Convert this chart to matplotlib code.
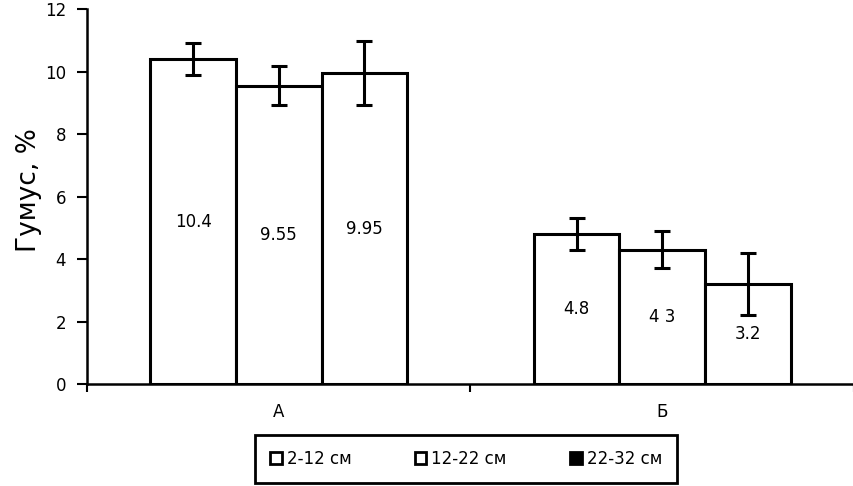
import matplotlib
matplotlib.use("Agg")
import matplotlib.pyplot as plt
import numpy as np
from matplotlib.patches import Patch

categories = ["А", "Б"]
series_labels = ["2-12 см", "12-22 см", "22-32 см"]
values = [[10.4, 4.8], [9.55, 4.3], [9.95, 3.2]]
errors = [[0.5, 0.5], [0.63, 0.6], [1.02, 0.98]]
value_text = [["10.4", "4.8"], ["9.55", "4 3"], ["9.95", "3.2"]]
y_ticks = [0, 2, 4, 6, 8, 10, 12]
y_label = "Гумус, %"

plt.rcParams['font.family'] = ['DejaVu Sans']
fig = plt.figure(figsize=(8.54, 4.86), dpi=100)
ax = fig.add_axes([87/854, 102/486, 767/854, 375/486])

x = np.arange(len(categories))
w = 0.223
for i, (vals, errs) in enumerate(zip(values, errors)):
    pos = x + (i - 1) * w
    ax.bar(pos, vals, width=w, color="white", edgecolor="black", linewidth=2.2, zorder=2)
    ax.errorbar(pos, vals, yerr=errs, fmt="none", ecolor="black", elinewidth=2.2,
                capsize=6, capthick=2.2, zorder=3)
    for p, v, t in zip(pos, vals, value_text[i]):
        ax.text(p, v / 2, t, ha="center", va="center", fontsize=12, zorder=4)

ax.set_xlim(-0.5, 1.5)
ax.set_ylim(0, 12)
ax.set_yticks(y_ticks)
ax.set_yticklabels([str(t) for t in y_ticks], fontsize=12)
ax.set_xticks([-0.5, 0.5, 1.5])
ax.set_xticklabels([])
ax.set_xticks(x, minor=True)
ax.set_xticklabels(categories, minor=True, fontsize=12)
ax.tick_params(axis="x", which="minor", length=0, pad=14)
ax.tick_params(axis="x", which="major", length=6, width=1.5, direction="out")
ax.tick_params(axis="y", length=7, width=1.5, direction="out", pad=8)
for s in ["top", "right"]:
    ax.spines[s].set_visible(False)
ax.spines["left"].set_linewidth(1.8)
ax.spines["bottom"].set_linewidth(1.8)
fig.text(16/854, 1 - 190/486, y_label, rotation=90, ha="left", va="center", fontsize=19)

handles = [Patch(facecolor="white", edgecolor="black", linewidth=2),
           Patch(facecolor="white", edgecolor="black", linewidth=2),
           Patch(facecolor="black", edgecolor="black", linewidth=2)]
leg = fig.legend(handles, series_labels, loc="center", bbox_to_anchor=(466/854, 1 - 459/486),
                 ncol=3, fontsize=12, frameon=True, fancybox=False, edgecolor="black",
                 framealpha=1.0,
                 handlelength=0.7, handleheight=0.7, handletextpad=0.3, columnspacing=3.8,
                 borderpad=0.9)
leg.get_frame().set_linewidth(2)

fig.savefig("out.png", dpi=100)
